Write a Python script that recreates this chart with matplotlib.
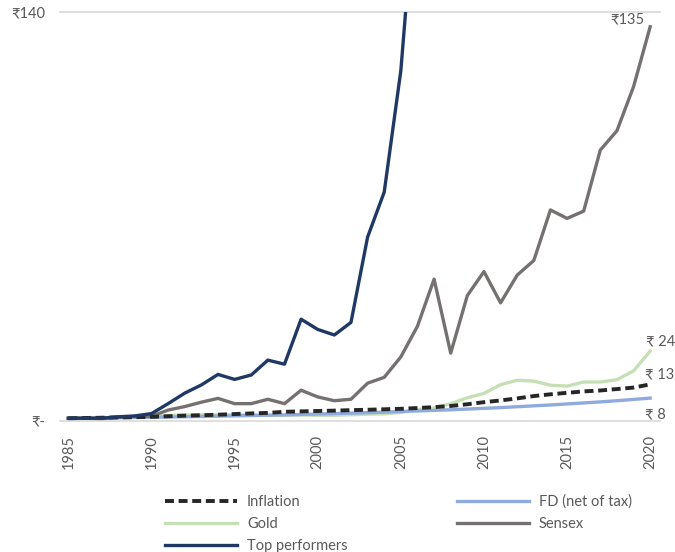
import matplotlib
matplotlib.use("Agg")
import matplotlib.pyplot as plt

plt.rcParams['font.family'] = ['Lato', 'DejaVu Sans']

years = list(range(1985, 2021))

inflation = [1.0, 1.09, 1.18, 1.29, 1.37, 1.49, 1.69, 1.90, 2.02, 2.22, 2.44, 2.66, 2.84, 3.21, 3.36,
             3.48, 3.61, 3.77, 3.91, 4.07, 4.24, 4.50, 4.80, 5.20, 5.80, 6.50, 7.10, 7.80, 8.60, 9.20,
             9.70, 10.2, 10.5, 11.0, 11.5, 12.6]
fd = [1.0, 1.06, 1.13, 1.2, 1.27, 1.35, 1.43, 1.52, 1.61, 1.71, 1.82, 1.93, 2.05, 2.17, 2.3,
      2.45, 2.6, 2.75, 2.92, 3.1, 3.3, 3.5, 3.7, 3.9, 4.15, 4.4, 4.65, 4.95, 5.25, 5.55,
      5.9, 6.25, 6.6, 7.0, 7.45, 7.9]
gold = [1.0, 1.1, 1.2, 1.3, 1.4, 1.5, 2.0, 2.1, 2.2, 2.2, 2.2, 2.1, 2.0, 2.0, 2.1,
        2.0, 2.0, 2.2, 2.4, 2.5, 3.0, 4.0, 4.5, 6.0, 8.0, 9.5, 12.5, 14.0, 13.7, 12.3,
        12.0, 13.4, 13.4, 14.2, 17.2, 24.0]
sensex = [1.0, 1.0, 0.9, 1.3, 1.6, 1.7, 3.8, 5.0, 6.5, 7.8, 6.0, 6.0, 7.5, 6.0, 10.6,
          8.3, 7.0, 7.5, 13.0, 15.0, 22.0, 32.5, 48.6, 23.3, 43.0, 51.2, 40.5, 50.0, 55.0, 72.3,
          69.4, 71.9, 92.8, 99.4, 114.5, 135.0]
top_years = list(range(1985, 2007))
top = [1.0, 1.0, 1.0, 1.5, 1.8, 2.6, 6.0, 9.6, 12.4, 16.0, 14.3, 15.8, 20.9, 19.5, 34.9,
       31.4, 29.5, 33.8, 63.0, 78.4, 120.0, 190.0]

fig = plt.figure(figsize=(6.75, 5.52), dpi=100)
ax = fig.add_axes([0.089, 0.237, 0.889, 0.741])

l_inf, = ax.plot(years, inflation, color='#262626', lw=2.8, ls=(0, (2.3, 1.2)), label='Inflation', zorder=4)
l_fd, = ax.plot(years, fd, color='#8FAADC', lw=2.4, label='FD (net of tax)', zorder=3)
l_gold, = ax.plot(years, gold, color='#C5E0B4', lw=2.4, label='Gold', zorder=2)
l_sx, = ax.plot(years, sensex, color='#767171', lw=2.4, label='Sensex', zorder=3)
l_top, = ax.plot(top_years, top, color='#1F3864', lw=2.4, label='Top performers', zorder=5)

ax.set_xlim(1984.5, 2020.6)
ax.set_ylim(0, 140)
ax.set_yticks([0, 140])
ax.set_yticklabels(['₹-', '₹140'])
ax.set_xticks(range(1985, 2021, 5))
ax.tick_params(axis='x', rotation=90, length=0, labelsize=10.5, colors='#595959', pad=10)
ax.tick_params(axis='y', length=0, labelsize=10.5, colors='#595959', pad=11)
for s in ['top', 'right', 'left']:
    ax.spines[s].set_visible(False)
ax.spines['bottom'].set_color('#D9D9D9')
ax.spines['bottom'].set_linewidth(1.2)
ax.axhline(140, color='#D9D9D9', lw=1.2, clip_on=False)

tc = '#595959'
ax.annotate('₹135', (2020, sensex[-1]), xytext=(-4, 0), textcoords='offset points',
            ha='right', va='bottom', fontsize=10.5, color=tc)
ax.annotate('₹ 24', (2020, gold[-1]), xytext=(-3, 2), textcoords='offset points',
            ha='left', va='bottom', fontsize=10.5, color=tc)
ax.annotate('₹ 13', (2020, inflation[-1]), xytext=(-4, 2), textcoords='offset points',
            ha='left', va='bottom', fontsize=10.5, color=tc)
ax.annotate('₹ 8', (2020, 0), xytext=(-4, 0), textcoords='offset points',
            ha='left', va='bottom', fontsize=10.5, color=tc)

leg = fig.legend([l_inf, l_gold, l_top, l_fd, l_sx],
                 ['Inflation', 'Gold', 'Top performers', 'FD (net of tax)', 'Sensex'],
                 ncol=2, loc='upper left', bbox_to_anchor=(0.245, 0.104), frameon=False,
                 fontsize=10.5, handlelength=4.9, handletextpad=0.7, columnspacing=7.5,
                 labelspacing=0.55, borderaxespad=0, borderpad=0)
for t in leg.get_texts():
    t.set_color(tc)

fig.savefig('out.png', dpi=100)
